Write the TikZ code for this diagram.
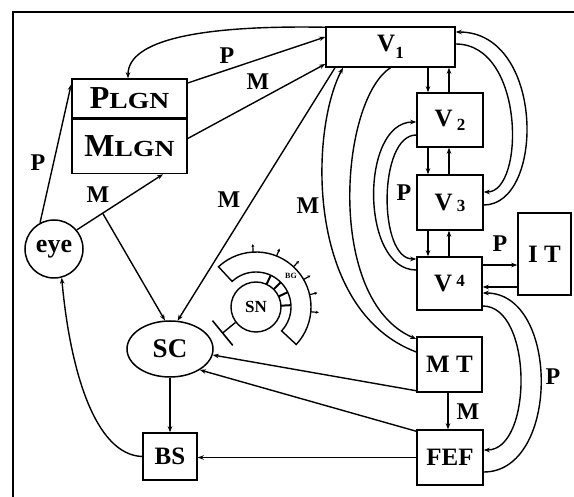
\documentclass[tikz,border=0pt]{standalone}
\usepackage{fontspec}
\usepackage{graphicx}
\setmainfont{Liberation Serif}
\usetikzlibrary{arrows.meta,shapes.geometric,calc}
\begin{document}
\begin{tikzpicture}[x=1pt,y=1pt,line width=1.4pt,
  >={Stealth[length=6pt,width=4.5pt]},
  box/.style={draw,line width=1.5pt,inner sep=0pt,font=\bfseries\fontsize{25}{25}\selectfont},
  lgn/.style={draw,line width=1.5pt,inner sep=0pt,minimum width=115pt,font=\bfseries},
  lab/.style={inner sep=0pt,font=\bfseries\fontsize{24}{24}\selectfont}]
\useasboundingbox (0,0) rectangle (574,-497);
% frame
\draw[line width=1.6pt] (13,-497) coordinate (fa) -- (13,-12) coordinate (fb) -- (574,-12) coordinate (fc);
% nodes
\node[box,minimum width=129pt,minimum height=40pt] (V1) at (390.5,-47) {V\raisebox{-7pt}{\fontsize{17}{17}\selectfont 1}};
\node[lgn,minimum height=39pt] (PLGN) at (129.5,-98.5) {\fontsize{32}{32}\selectfont P\fontsize{23}{23}\selectfont\scalebox{1.2}[1]{LGN}};
\node[lgn,minimum height=54pt,anchor=north] (MLGN) at (PLGN.south) {\fontsize{32}{32}\selectfont M\fontsize{23}{23}\selectfont\scalebox{1.2}[1]{LGN}};
\node[draw,circle,line width=1.5pt,minimum size=58pt,inner sep=0pt,font=\bfseries\fontsize{26}{26}\selectfont] (eye) at (54,-249) {eye};
\node[draw,ellipse,line width=1.5pt,minimum width=86pt,minimum height=56pt,inner sep=0pt,font=\bfseries\fontsize{27}{27}\selectfont] (SC) at (170,-349) {SC};
\node[draw,circle,line width=1.4pt,minimum size=50pt,inner sep=0pt,font=\bfseries\fontsize{17}{17}\selectfont] (SN) at (256,-307) {SN};
\node[box,minimum width=54pt,minimum height=47pt] (BS) at (170,-456.5) {BS};
\node[box,minimum width=66pt,minimum height=55pt] (FEF) at (450,-457.5) {FEF};
\node[box,minimum width=65pt,minimum height=55pt] (MT) at (449.5,-364.5) {M T};
\node[box,minimum width=65pt,minimum height=53pt] (V4) at (449.5,-283.5) {V\,\raisebox{5pt}{\fontsize{17}{17}\selectfont 4}};
\node[box,minimum width=66pt,minimum height=55pt] (V3) at (450,-202.5) {V\,\raisebox{-1pt}{\fontsize{17}{17}\selectfont 3}};
\node[box,minimum width=66pt,minimum height=54pt] (V2) at (450,-120) {V\,\raisebox{-4pt}{\fontsize{17}{17}\selectfont 2}};
\node[box,minimum width=53pt,minimum height=82pt] (IT) at (544.5,-254) {I T};
% LGN <-> V1
\draw[->] ([yshift=-1pt]V1.north west) .. controls (200,-25) and (128,-40) .. ([xshift=-1.5pt]PLGN.north);
\draw[->] ([yshift=15.5pt]PLGN.east) -- ([yshift=10pt]V1.west);
\draw[->] ([yshift=8pt]MLGN.east) -- ([yshift=-17pt]V1.west);
% eye -> LGN, SC
\draw[->] (eye.118) -- ([yshift=-6pt]PLGN.north west);
\draw[->] (eye.40) -- coordinate[pos=0.3] (br) ([xshift=33.5pt]MLGN.south);
\draw[->] (br) -- (SC.100);
% V1 -> SC
\draw[->] ([xshift=-55.5pt]V1.south) -- (SC.75);
% V1 <-> MT
\draw[->] (V1.south) .. controls (340,-100) and (325,-300) .. ([yshift=25.5pt]MT.west);
\draw[->] ([yshift=12.5pt]MT.west) .. controls (305,-310) and (310,-130) .. ([xshift=-47.5pt]V1.south);
% vertical pairs
\draw[->] ([xshift=37.5pt]V1.south) -- ([xshift=-22pt]V2.north);
\draw[->] ([xshift=-1pt]V2.north) -- ([xshift=58.5pt]V1.south);
\draw[->] ([xshift=-22pt]V2.south) -- ([xshift=-22pt]V3.north);
\draw[->] ([xshift=-1pt]V3.north) -- ([xshift=-1pt]V2.south);
\draw[->] ([xshift=-22pt]V3.south) -- ([xshift=-21.5pt]V4.north);
\draw[->] ([xshift=-0.5pt]V4.north) -- ([xshift=-1pt]V3.south);
% V1 <-> V3
\draw[->] ([yshift=-2.5pt]V3.east) .. controls (545,-205) and (545,-32) .. ([yshift=15pt]V1.east);
\draw[->] ([yshift=3pt]V1.east) .. controls (525,-44) and (525,-192) .. ([yshift=10.5pt]V3.east);
% V2 <-> V4
\draw[->] ([yshift=13.5pt]V4.west) .. controls (360,-270) and (360,-122) .. ([yshift=-2pt]V2.west);
\draw[->] ([yshift=-15pt]V2.west) .. controls (378,-135) and (378,-259) .. ([yshift=24.5pt]V4.west);
% V4 <-> IT
\draw[->] ([yshift=18.5pt]V4.east) -- ([yshift=-11pt]IT.west);
\draw[->] ([yshift=-33pt]IT.west) -- ([yshift=-3.5pt]V4.east);
% V4 <-> FEF
\draw[->] ([yshift=-14.5pt]FEF.east) .. controls (560,-472) and (560,-293) .. ([yshift=-9.5pt]V4.east);
\draw[->] ([yshift=-22.5pt]V4.east) .. controls (533,-306) and (533,-450) .. ([yshift=7.5pt]FEF.east);
% MT -> FEF, MT -> SC, FEF -> SC
\draw[->] ([xshift=-1.5pt]MT.south) -- ([xshift=-2pt]FEF.north);
\draw[->] ([yshift=2pt]MT.south west) -- (SC.-8);
\draw[->] ([yshift=-2pt]FEF.north west) -- (SC.-35);
% SC -> BS, FEF -> BS, BS -> eye
\draw[->] (SC.south) -- (BS.north);
\draw[->] (FEF.west) -- (BS.east |- FEF.west);
\draw[->] (BS.west) .. controls (95,-455) and (70,-370) .. (eye.-75);
% BG band around SN
\draw[line width=1.4pt] ($(SN.center)+(133:55)$) arc[start angle=133,end angle=-43,radius=55]
  -- ($(SN.center)+(-43:35)$) arc[start angle=-43,end angle=133,radius=35] -- cycle;
\foreach \a in {93,68,47,30,13,-5}
  \draw[line width=1.2pt,-{Stealth[length=3pt,width=3pt]}] ($(SN.center)+(\a:55)$) -- ($(SN.center)+(\a:63)$);
\foreach \a in {65,45,25,3}
  \draw[line width=2pt] ($(SN.center)+(\a:25)$) -- ($(SN.center)+(\a:35)$);
\node[inner sep=0pt,font=\bfseries\fontsize{8}{8}\selectfont] (BG) at (291,-276) {BG};
% inhibition SN -| SC
\coordinate (inh) at (222,-333.5);
\draw[-{Bar[width=32pt,line width=1.6pt]}] (SN.217) -- (inh);
% labels
\node[lab] (l1) at (227,-56) {P};
\node[lab] (l2) at (258,-82) {M};
\node[lab] (l3) at (38,-163) {P};
\node[lab] (l4) at (98,-195) {M};
\node[lab] (l5) at (229,-200) {M};
\node[lab] (l6) at (308,-206) {M};
\node[lab] (l7) at (404,-193) {P};
\node[lab] (l8) at (500,-244) {P};
\node[lab] (l9) at (553,-377) {P};
\node[lab] (l10) at (468,-412) {M};
\end{tikzpicture}
\end{document}
